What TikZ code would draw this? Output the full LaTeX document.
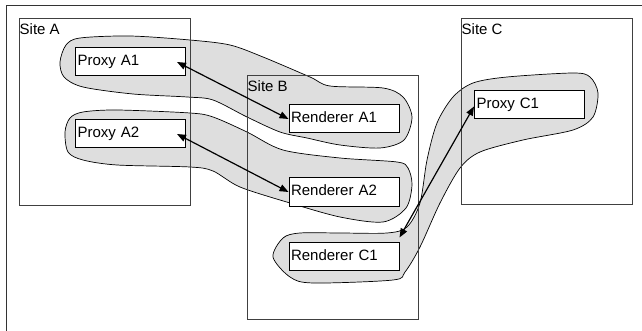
\documentclass[tikz,border=0pt]{standalone}
\usepackage{fontspec}
\setmainfont{Liberation Sans}
\usepackage{tikz}
\usetikzlibrary{shapes,arrows.meta,positioning}
\tikzstyle{block} = [rectangle, draw, fill=white, line width=1pt,
    text width=106pt, inner xsep=2pt, align=left, minimum height=28pt,
    text height=11pt, text depth=3pt, font=\fontsize{15}{17}\selectfont]
\tikzstyle{site} = [rectangle, draw=black!75, line width=1pt, minimum width=171pt]
\tikzstyle{sitename} = [anchor=north west, inner xsep=1pt, inner ysep=5pt,
    font=\fontsize{15}{17}\selectfont]
\tikzstyle{group} = [draw, fill=black!13, line width=0.7pt]
\tikzstyle{arrow} = [line width=1.2pt,
    {Triangle[length=9pt,width=7pt]}-{Triangle[length=9pt,width=7pt]}]

\begin{document}
\begin{tikzpicture}[x=1pt, y=-1pt, node distance = 40pt, auto]
		\useasboundingbox (0,0) rectangle (642,331);
		% the outer frame
		\draw [line width=1pt, black!80] (6,331) |- (642,6);

		% draw the grey groups behind everything
		\draw [group] plot [smooth cycle] coordinates {(60,62) (66,45) (80,38) (130,36) (190,40)
			(230,45) (263,57) (310,77) (330,86) (383,88) (403,97) (412,117) (404,140) (380,148)
			(340,145) (307,138) (280,132) (247,117) (213,100) (187,97) (133,94) (83,87) (64,77)};
		\draw [group] plot [smooth cycle] coordinates {(65,132) (70,118) (83,112) (117,110) (190,113)
			(213,117) (247,132) (283,150) (340,158) (397,162) (408,168) (412,185) (406,208) (383,222)
			(340,217) (290,203) (240,187) (213,171) (190,167) (117,165) (83,160) (68,152)};
		\draw [group] plot [smooth cycle] coordinates {(273,257) (283,238) (300,233) (340,233)
			(387,233) (407,227) (420,203) (427,160) (437,123) (453,97) (473,83) (507,77) (573,73)
			(590,77) (598,93) (593,117) (573,130) (523,140) (480,152) (460,168) (440,203) (420,247)
			(405,272) (393,280) (313,283) (290,277)};

		% draw the sites
		\node [site, minimum height=186pt] (siteA) at (104.5,112) {};
		\node [site, minimum height=243pt] (siteB) at (332.5,197.5) {};
		\node [site, minimum height=185pt] (siteC) at (546.5,111.5) {};
		\node [sitename] (siteAname) at (siteA.north west) {Site A};
		\node [sitename] (siteBname) at (siteB.north west) {Site B};
		\node [sitename] (siteCname) at (siteC.north west) {Site C};

		% draw the text boxes
		\node [block] (proxyA1) at (130.5,62) {Proxy A1};
		\node [block, below=43pt of proxyA1] (proxyA2) {Proxy A2};
		\node [block] (rendA1) at (344,119) {Renderer A1};
		\node [block, below=44pt of rendA1] (rendA2) {Renderer A2};
		\node [block, below=35pt of rendA2] (rendC1) {Renderer C1};
		\node [block] (proxyC1) at (529.5,104.5) {Proxy C1};

		% draw the edges connecting text boxes
		\draw [arrow] ([xshift=-9pt]proxyA1.east) -- (rendA1.west);
		\draw [arrow] ([xshift=-9pt]proxyA2.east) -- (rendA2.west);
		\draw [arrow] ([yshift=4pt]rendC1.north east) -- ([yshift=-2pt]proxyC1.west);
	\end{tikzpicture}
\end{document}
